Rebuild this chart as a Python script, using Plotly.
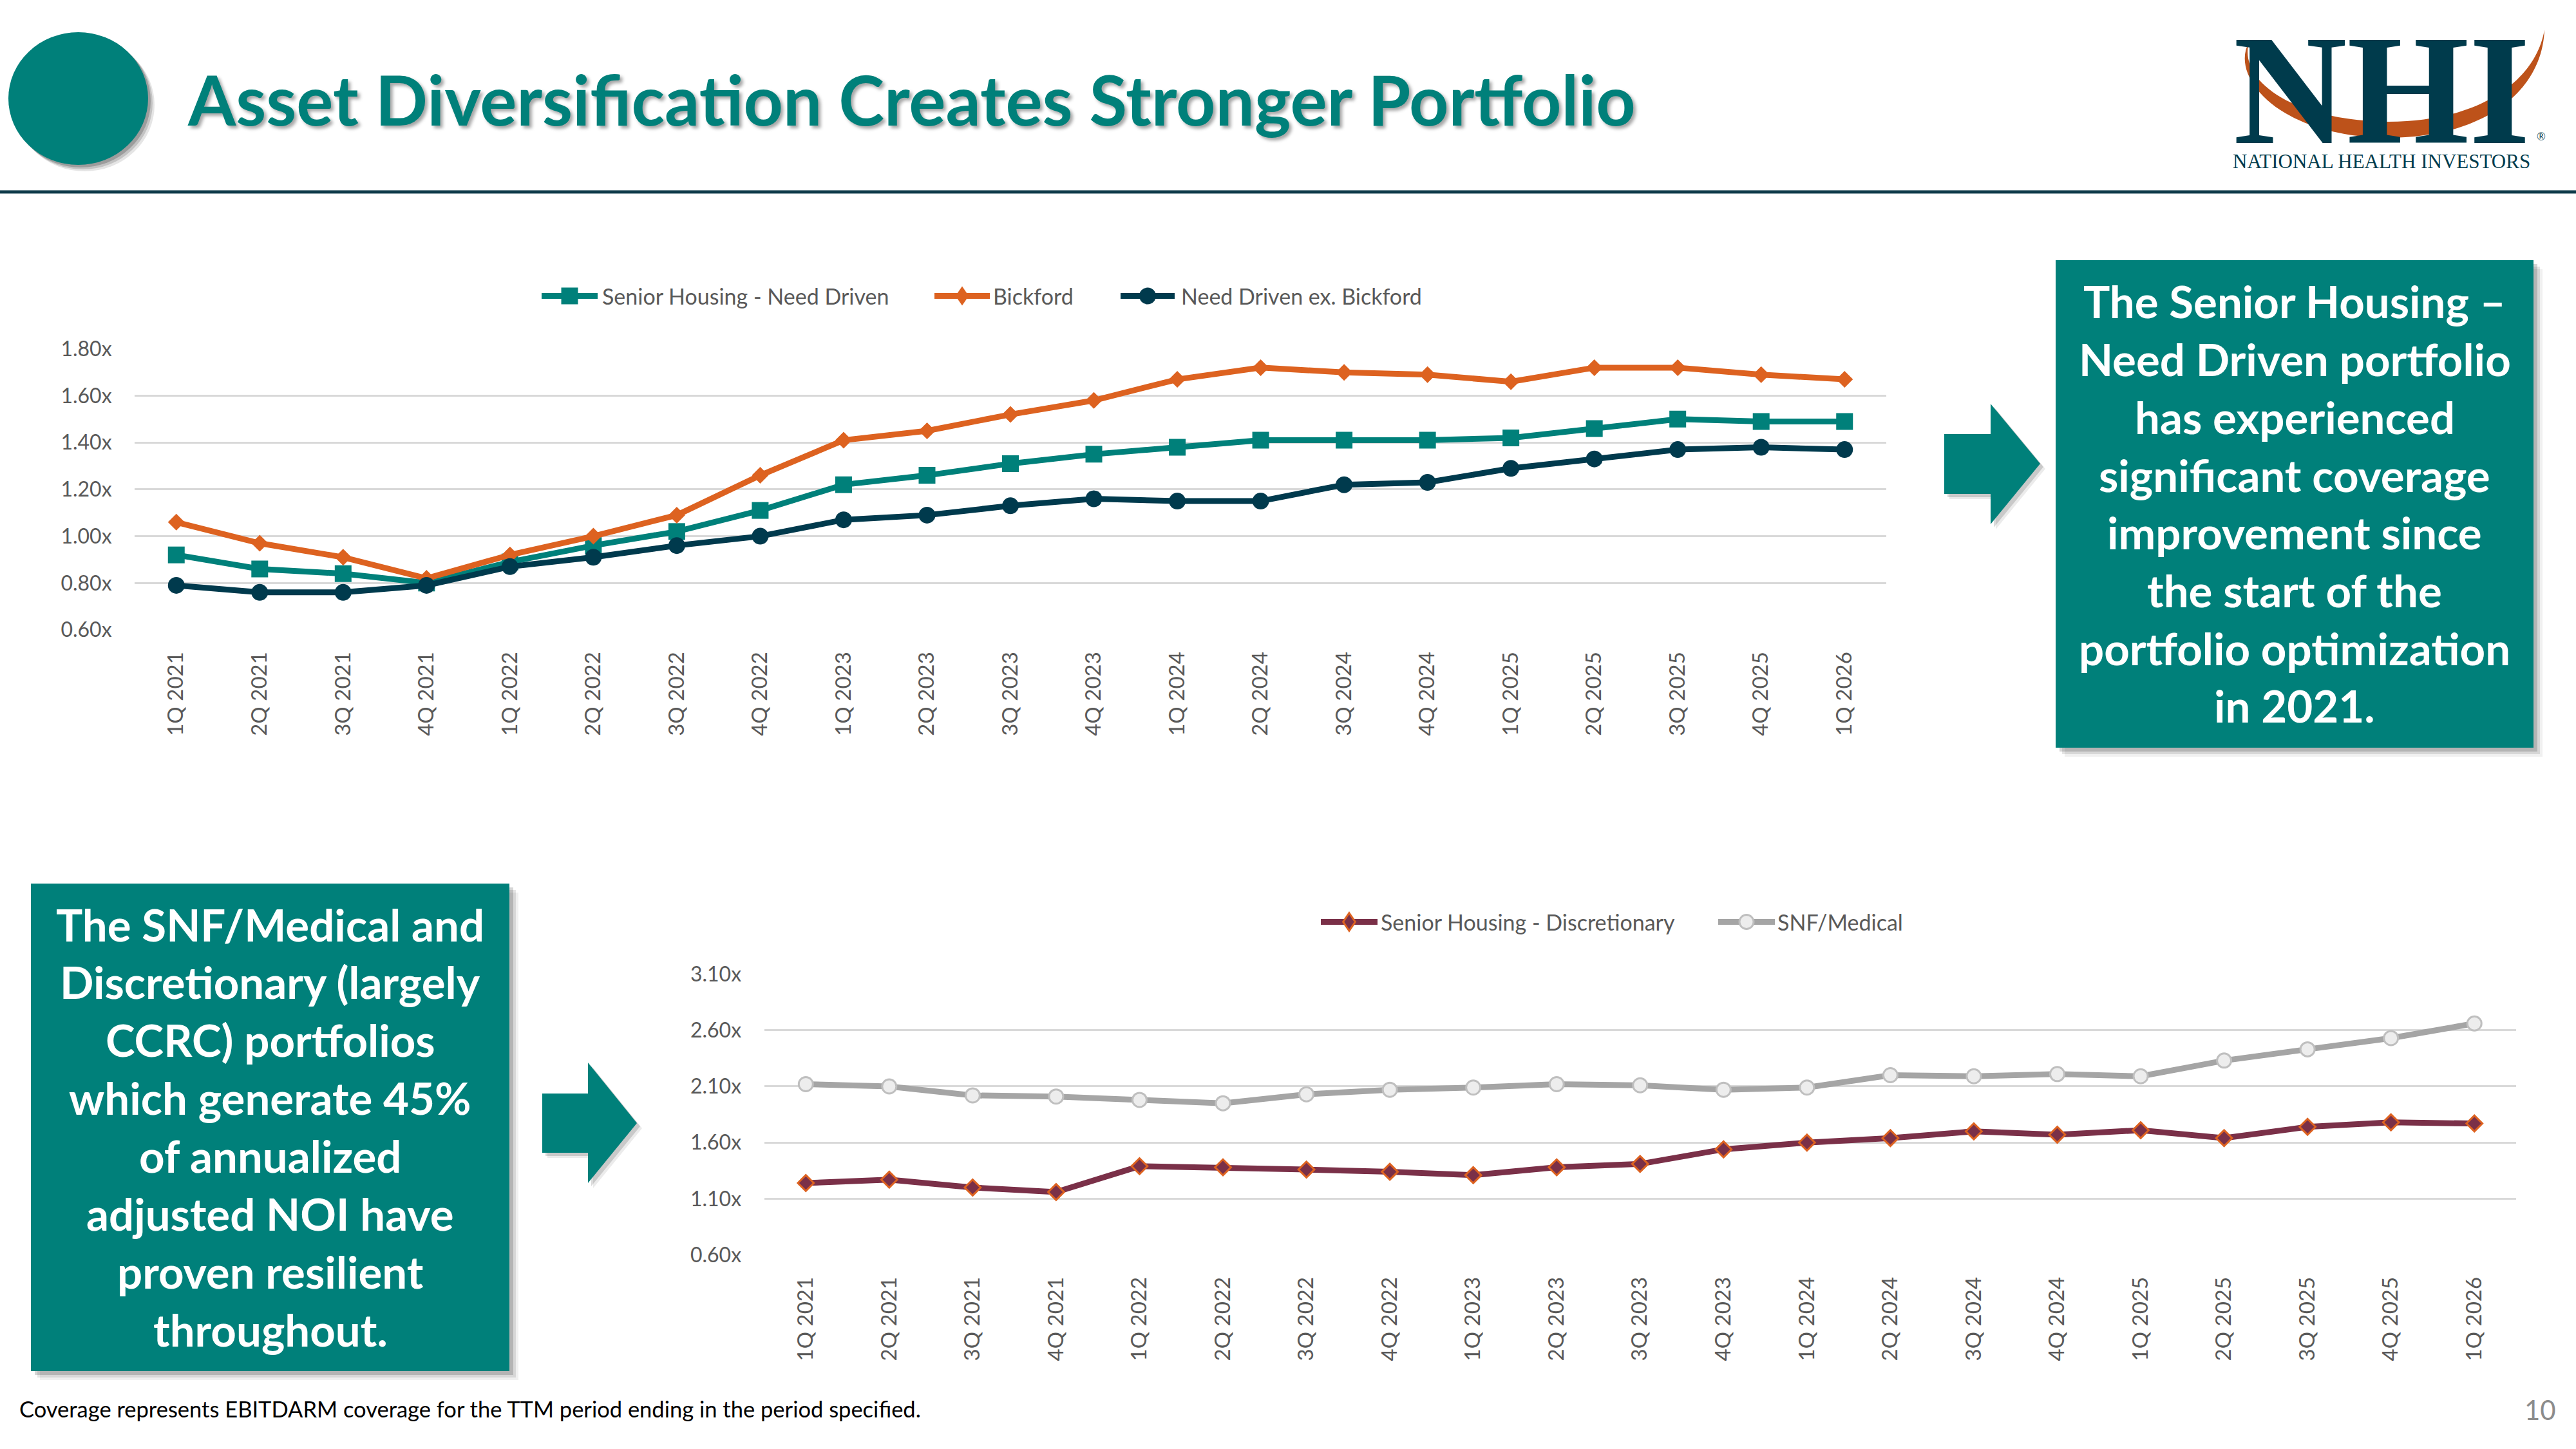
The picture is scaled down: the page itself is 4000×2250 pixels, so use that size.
import plotly.graph_objects as go

W, H = 4000, 2250

# ---------------- data ----------------
quarters = ["1Q 2021", "2Q 2021", "3Q 2021", "4Q 2021",
            "1Q 2022", "2Q 2022", "3Q 2022", "4Q 2022",
            "1Q 2023", "2Q 2023", "3Q 2023", "4Q 2023",
            "1Q 2024", "2Q 2024", "3Q 2024", "4Q 2024",
            "1Q 2025", "2Q 2025", "3Q 2025", "4Q 2025",
            "1Q 2026"]

need_driven = [0.92, 0.86, 0.84, 0.80, 0.89, 0.96, 1.02, 1.11, 1.22, 1.26, 1.31,
               1.35, 1.38, 1.41, 1.41, 1.41, 1.42, 1.46, 1.50, 1.49, 1.49]
bickford = [1.06, 0.97, 0.91, 0.82, 0.92, 1.00, 1.09, 1.26, 1.41, 1.45, 1.52,
            1.58, 1.67, 1.72, 1.70, 1.69, 1.66, 1.72, 1.72, 1.69, 1.67]
ex_bickford = [0.79, 0.76, 0.76, 0.79, 0.87, 0.91, 0.96, 1.00, 1.07, 1.09, 1.13,
               1.16, 1.15, 1.15, 1.22, 1.23, 1.29, 1.33, 1.37, 1.38, 1.37]

discretionary = [1.24, 1.27, 1.20, 1.16, 1.39, 1.38, 1.36, 1.34, 1.31, 1.38, 1.41,
                 1.54, 1.60, 1.64, 1.70, 1.67, 1.71, 1.64, 1.74, 1.78, 1.77]
snf_medical = [2.12, 2.10, 2.02, 2.01, 1.98, 1.95, 2.03, 2.07, 2.09, 2.12, 2.11,
               2.07, 2.09, 2.20, 2.19, 2.21, 2.19, 2.33, 2.43, 2.53, 2.66]

top_ticks = [0.60, 0.80, 1.00, 1.20, 1.40, 1.60, 1.80]
top_tick_labels = ["0.60x", "0.80x", "1.00x", "1.20x", "1.40x", "1.60x", "1.80x"]
bottom_ticks = [0.60, 1.10, 1.60, 2.10, 2.60, 3.10]
bottom_tick_labels = ["0.60x", "1.10x", "1.60x", "2.10x", "2.60x", "3.10x"]

top_names = ["Senior Housing - Need Driven", "Bickford", "Need Driven ex. Bickford"]
bottom_names = ["Senior Housing - Discretionary", "SNF/Medical"]

title_text = "Asset Diversification Creates Stronger Portfolio"
top_box_lines = ["The Senior Housing –", "Need Driven portfolio", "has experienced",
                 "significant coverage", "improvement since", "the start of the",
                 "portfolio optimization", "in 2021."]
bottom_box_lines = ["The SNF/Medical and", "Discretionary (largely", "CCRC) portfolios",
                    "which generate 45%", "of annualized", "adjusted NOI have",
                    "proven resilient", "throughout."]
footnote = "Coverage represents EBITDARM coverage for the TTM period ending in the period specified."
page_no = "10"

# ---------------- style ----------------
TEAL = "#00807A"
ORANGE = "#DD6220"
NAVY = "#003A4D"
MAROON = "#7A3048"
GRAY = "#A5A5A5"
GRID = "#D9D9D9"
TXT = "#595959"
FONT = "Lato"


def px(x):
    return x / W


def py(y):
    return 1 - y / H


def path(pts):
    s = "M" + " L".join(f"{px(x):.5f},{py(y):.5f}" for x, y in pts)
    return s + " Z"


fig = go.Figure()

# top chart traces
fig.add_trace(go.Scatter(x=quarters, y=need_driven, name=top_names[0], mode="lines+markers",
                         line=dict(color=TEAL, width=9),
                         marker=dict(symbol="square", size=26, color=TEAL),
                         xaxis="x", yaxis="y", showlegend=False))
fig.add_trace(go.Scatter(x=quarters, y=bickford, name=top_names[1], mode="lines+markers",
                         line=dict(color=ORANGE, width=9),
                         marker=dict(symbol="diamond", size=20, color=ORANGE),
                         xaxis="x", yaxis="y", showlegend=False))
fig.add_trace(go.Scatter(x=quarters, y=ex_bickford, name=top_names[2], mode="lines+markers",
                         line=dict(color=NAVY, width=9),
                         marker=dict(symbol="circle", size=26, color=NAVY),
                         xaxis="x", yaxis="y", showlegend=False))

# bottom chart traces
fig.add_trace(go.Scatter(x=quarters, y=discretionary, name=bottom_names[0], mode="lines+markers",
                         line=dict(color=MAROON, width=9),
                         marker=dict(symbol="diamond", size=19, color=MAROON,
                                     line=dict(color=ORANGE, width=3)),
                         xaxis="x2", yaxis="y2", showlegend=False))
fig.add_trace(go.Scatter(x=quarters, y=snf_medical, name=bottom_names[1], mode="lines+markers",
                         line=dict(color=GRAY, width=9),
                         marker=dict(symbol="circle", size=22, color="#EDEDED",
                                     line=dict(color="#BFBFBF", width=3)),
                         xaxis="x2", yaxis="y2", showlegend=False))

xcommon = dict(type="category", range=[-0.5, len(quarters) - 0.5], showgrid=False,
               showline=False, zeroline=False, tickangle=-90,
               ticks="outside", ticklen=20, tickcolor="rgba(0,0,0,0)",
               tickfont=dict(family=FONT, size=33, color=TXT))
ycommon = dict(showgrid=True, gridcolor=GRID, gridwidth=3, zeroline=False, showline=False,
               ticks="outside", ticklen=28, tickcolor="rgba(0,0,0,0)",
               tickfont=dict(family=FONT, size=32, color=TXT))

fig.update_layout(
    width=W, height=H, margin=dict(l=0, r=0, t=0, b=0, pad=0, autoexpand=False),
    paper_bgcolor="white", plot_bgcolor="white",
    xaxis=dict(domain=[px(209), px(2929)], anchor="y", **xcommon),
    yaxis=dict(domain=[py(978), py(541.8)], anchor="x", range=[0.6, 1.8],
               tickmode="array", tickvals=top_ticks, ticktext=top_tick_labels, **ycommon),
    xaxis2=dict(domain=[px(1186.5), px(3907)], anchor="y2", **xcommon),
    yaxis2=dict(domain=[py(1948.7), py(1512.5)], anchor="x2", range=[0.6, 3.1],
                tickmode="array", tickvals=bottom_ticks, ticktext=bottom_tick_labels, **ycommon),
)

shapes = []
annotations = []

# header: circle with shadow, rule
for off, op in [(10, 0.10), (7, 0.15), (4, 0.2)]:
    shapes.append(dict(type="circle", xref="paper", yref="paper",
                       x0=px(13 + off), x1=px(230 + off), y0=py(50 + off), y1=py(256 + off),
                       fillcolor=f"rgba(0,0,0,{op})", line=dict(width=0)))
shapes.append(dict(type="circle", xref="paper", yref="paper",
                   x0=px(13), x1=px(230), y0=py(50), y1=py(256),
                   fillcolor=TEAL, line=dict(width=0)))
shapes.append(dict(type="line", xref="paper", yref="paper",
                   x0=0, x1=1, y0=py(298), y1=py(298),
                   line=dict(color="#0E3B4A", width=5)))

annotations.append(dict(text=title_text, xref="paper", yref="paper", x=px(289), y=py(153),
                        xanchor="left", yanchor="middle", showarrow=False,
                        font=dict(family=FONT, size=107, color=TEAL, weight="bold",
                                  shadow="4px 4px 5px rgba(0,0,0,0.35)")))

# logo
shapes.append(dict(type="path", xref="paper", yref="paper", fillcolor="#BD521A",
                   line=dict(width=0), layer="above",
                   path=(f"M{px(3492):.5f},{py(66):.5f} "
                         f"C{px(3462):.5f},{py(120):.5f} {px(3540):.5f},{py(212):.5f} {px(3706):.5f},{py(214):.5f} "
                         f"C{px(3860):.5f},{py(214):.5f} {px(3948):.5f},{py(140):.5f} {px(3951):.5f},{py(46):.5f} "
                         f"C{px(3938):.5f},{py(125):.5f} {px(3850):.5f},{py(190):.5f} {px(3706):.5f},{py(189):.5f} "
                         f"C{px(3560):.5f},{py(187):.5f} {px(3476):.5f},{py(125):.5f} {px(3492):.5f},{py(66):.5f} Z")))
annotations.append(dict(text="NHI", xref="paper", yref="paper", x=px(3698), y=py(139.6),
                        xanchor="center", yanchor="middle", showarrow=False,
                        font=dict(family="Liberation Serif", size=244, color="#003B4C", weight="bold")))
annotations.append(dict(text="®", xref="paper", yref="paper", x=px(3946), y=py(212),
                        xanchor="center", yanchor="middle", showarrow=False,
                        font=dict(family="Liberation Serif", size=18, color="#003B4C")))
annotations.append(dict(text="NATIONAL HEALTH INVESTORS", xref="paper", yref="paper",
                        x=px(3698), y=py(251), xanchor="center", yanchor="middle", showarrow=False,
                        font=dict(family="Liberation Serif", size=31, color="#003B4C")))


# manual legends
def legend_item(name, x0, x1, ycen, color, marker, text_x):
    shapes.append(dict(type="line", xref="paper", yref="paper", x0=px(x0), x1=px(x1),
                       y0=py(ycen), y1=py(ycen), line=dict(color=color, width=9)))
    xc = (x0 + x1) / 2
    kind, size, fill, lc, lw = marker
    r = size / 2
    if kind == "square":
        shapes.append(dict(type="rect", xref="paper", yref="paper", x0=px(xc - r), x1=px(xc + r),
                           y0=py(ycen + r), y1=py(ycen - r), fillcolor=fill, line=dict(width=0)))
    elif kind == "circle":
        shapes.append(dict(type="circle", xref="paper", yref="paper", x0=px(xc - r), x1=px(xc + r),
                           y0=py(ycen + r), y1=py(ycen - r), fillcolor=fill,
                           line=dict(color=lc, width=lw) if lw else dict(width=0)))
    else:
        shapes.append(dict(type="path", xref="paper", yref="paper",
                           path=path([(xc, ycen - r * 1.25), (xc + r * 0.85, ycen),
                                      (xc, ycen + r * 1.25), (xc - r * 0.85, ycen)]),
                           fillcolor=fill,
                           line=dict(color=lc, width=lw) if lw else dict(width=0)))
    annotations.append(dict(text=name, xref="paper", yref="paper", x=px(text_x), y=py(ycen),
                            xanchor="left", yanchor="middle", showarrow=False,
                            font=dict(family=FONT, size=34, color=TXT)))


legend_item(top_names[0], 841, 928, 459.5, TEAL, ("square", 26, TEAL, None, 0), 933)
legend_item(top_names[1], 1451, 1537, 459.5, ORANGE, ("diamond", 24, ORANGE, None, 0), 1540)
legend_item(top_names[2], 1740, 1824, 459.5, NAVY, ("circle", 26, NAVY, None, 0), 1832)
legend_item(bottom_names[0], 2051, 2139, 1431.5, MAROON, ("diamond", 22, MAROON, ORANGE, 3), 2142)
legend_item(bottom_names[1], 2668, 2756, 1431.5, GRAY, ("circle", 22, "#EDEDED", "#BFBFBF", 3), 2758)


# text boxes with shadow
def text_box(x0, y0, x1, y1, lines, first_y, step):
    for off, op in [(14, 0.06), (10, 0.10), (6, 0.16)]:
        shapes.append(dict(type="rect", xref="paper", yref="paper",
                           x0=px(x0 + off), x1=px(x1 + off), y0=py(y1 + off), y1=py(y0 + off),
                           fillcolor=f"rgba(0,0,0,{op})", line=dict(width=0)))
    shapes.append(dict(type="rect", xref="paper", yref="paper", x0=px(x0), x1=px(x1),
                       y0=py(y1), y1=py(y0), fillcolor=TEAL, line=dict(width=0)))
    xc = (x0 + x1) / 2
    for i, t in enumerate(lines):
        annotations.append(dict(text=t, xref="paper", yref="paper", x=px(xc), y=py(first_y + i * step),
                                xanchor="center", yanchor="middle", showarrow=False,
                                font=dict(family=FONT, size=69, color="white", weight="bold")))


text_box(3192, 404, 3934, 1161, top_box_lines, 468, 89.7)
text_box(48, 1372, 791, 2129, bottom_box_lines, 1435, 89.9)


# arrows with shadow
def arrow(xs, xn, xt, ys0, ys1, yh0, yh1, yt):
    pts = [(xs, ys0), (xn, ys0), (xn, yh0), (xt, yt), (xn, yh1), (xn, ys1), (xs, ys1)]
    for off, op in [(8, 0.08), (5, 0.14)]:
        shapes.append(dict(type="path", xref="paper", yref="paper",
                           path=path([(x + off, y + off) for x, y in pts]),
                           fillcolor=f"rgba(0,0,0,{op})", line=dict(width=0)))
    shapes.append(dict(type="path", xref="paper", yref="paper", path=path(pts),
                       fillcolor=TEAL, line=dict(width=0)))


arrow(3019, 3091, 3168, 674, 767, 627, 814, 720)
arrow(842, 913, 989, 1698, 1790, 1650, 1837, 1744)

# footer
annotations.append(dict(text=footnote, xref="paper", yref="paper", x=px(28), y=py(2187),
                        xanchor="left", yanchor="middle", showarrow=False,
                        font=dict(family=FONT, size=34.5, color="#000000")))
annotations.append(dict(text=page_no, xref="paper", yref="paper", x=px(3971), y=py(2189),
                        xanchor="right", yanchor="middle", showarrow=False,
                        font=dict(family=FONT, size=42, color="#8C8C8C")))

fig.update_layout(shapes=shapes, annotations=annotations)

# pin the graph to the page's top-left corner so the page is exactly W x H
post = ("var gd=document.getElementById('{plot_id}');"
        "document.documentElement.style.margin='0';document.body.style.margin='0';"
        "document.documentElement.style.overflow='hidden';document.body.style.overflow='hidden';"
        "gd.style.position='absolute';gd.style.left='0px';gd.style.top='0px';")
fig.write_html("out.html", post_script=post, config={"displayModeBar": False})
